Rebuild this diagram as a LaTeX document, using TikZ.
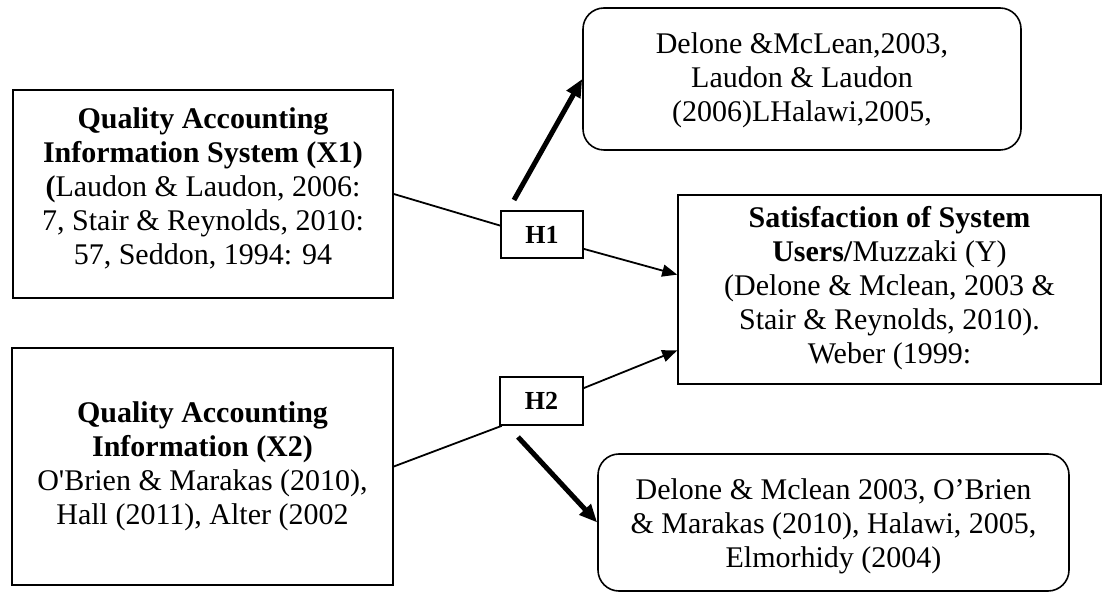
\documentclass[tikz,border=0pt]{standalone}
\usepackage{fontspec}
\setmainfont{Liberation Serif}
\usetikzlibrary{arrows.meta}
\begin{document}
\begin{tikzpicture}[x=1pt,y=-1pt,
  plainbox/.style={draw,line width=1.6pt,inner sep=0pt},
  roundbox/.style={plainbox,rounded corners=21pt},
  txt/.style={align=center,inner sep=0pt,font=\fontsize{30}{34}\selectfont},
  hbox/.style={plainbox,font=\fontsize{26}{30}\selectfont\bfseries},
  thinline/.style={line width=1.8pt},
  thinarrow/.style={line width=1.8pt,-{Triangle[length=15pt,width=12pt]}},
  thickarrow/.style={line width=5pt,-{Triangle[length=18pt,width=15pt]}}]
\useasboundingbox (0,0) rectangle (1104,593);
% boxes
\node[plainbox,minimum width=380pt,minimum height=208pt] (x1) at (203,194) {};
\node[txt] (x1t) at (203,188) {\textbf{Quality Accounting}\\\textbf{Information System (X1)}\\\textbf{(}Laudon \& Laudon, 2006:\\7, Stair \& Reynolds, 2010:\\57, Seddon, 1994: 94};
\node[plainbox,minimum width=381pt,minimum height=237pt] (x2) at (202.5,466.5) {};
\node[txt] (x2t) at (202.5,466) {\textbf{Quality Accounting}\\\textbf{Information (X2)}\\O\textquotesingle Brien \& Marakas (2010),\\Hall (2011), Alter (2002};
\node[hbox,minimum width=82pt,minimum height=47pt] (h1) at (542,234.5) {H1};
\node[hbox,minimum width=83pt,minimum height=48pt] (h2) at (541.5,401) {H2};
\node[roundbox,minimum width=438pt,minimum height=142pt] (top) at (802,79) {};
\node[txt] (topt) at (802,80) {Delone \&McLean,2003,\\Laudon \& Laudon\\(2006)LHalawi,2005,};
\node[plainbox,minimum width=423pt,minimum height=189pt] (y) at (889.5,289.5) {};
\node[txt] (yt) at (889.5,288) {\textbf{Satisfaction of System}\\\textbf{Users/}Muzzaki (Y)\\(Delone \& Mclean, 2003 \&\\Stair \& Reynolds, 2010).\\Weber (1999:};
\node[roundbox,minimum width=471pt,minimum height=137pt] (bot) at (833.5,522.5) {};
\node[txt] (bott) at (833.5,526) {Delone \& Mclean 2003, O’Brien\\\& Marakas (2010), Halawi, 2005,\\Elmorhidy (2004)};
% free ends
\coordinate (h1up) at (514,200);
\coordinate (h2down) at (518,437);
% connectors
\draw[thinline] (x1.east) -- (h1.168);
\draw[thinarrow] (h1.-19.5) -- (y.176.3);
\draw[thickarrow] (h1up) -- (top.west);
\draw[thinline] (x2.east) -- (h2.-148);
\draw[thinarrow] (h2.17) -- (y.196.5);
\draw[thickarrow] (h2down) -- (bot.west);
\end{tikzpicture}
\end{document}
